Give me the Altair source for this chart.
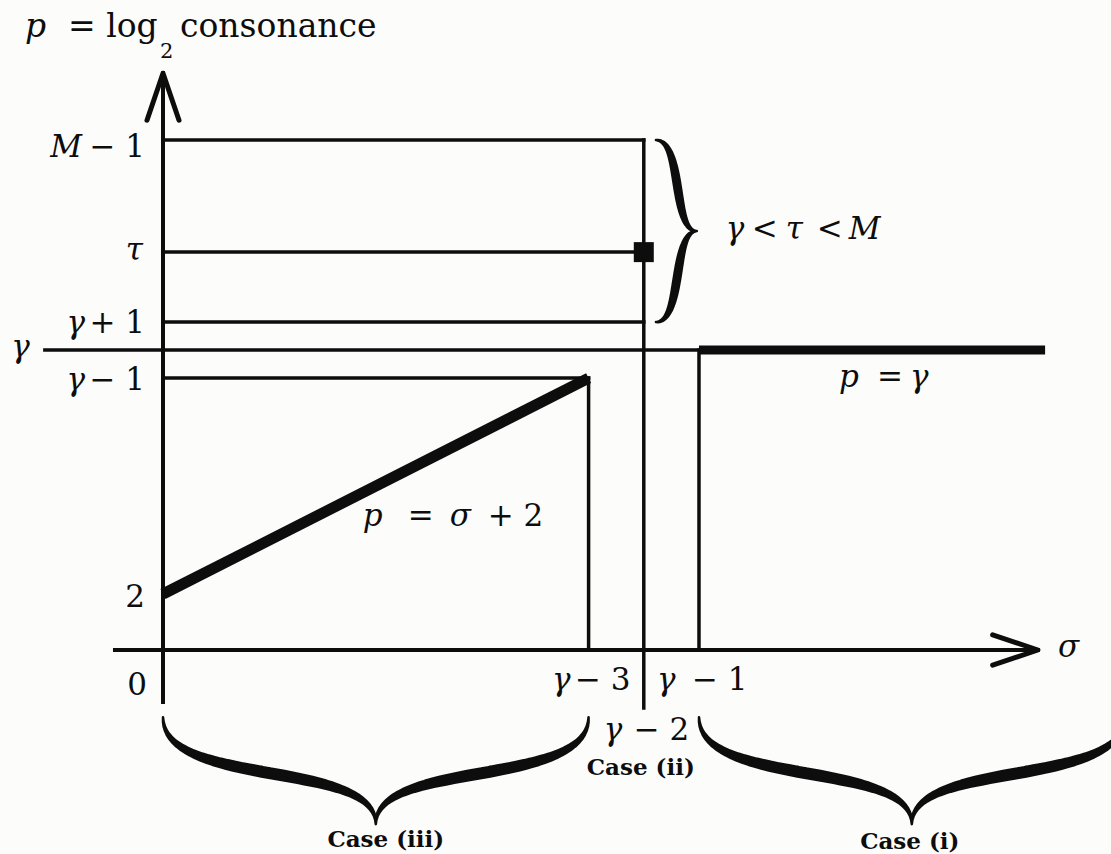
import altair as alt
import numpy as np
import pandas as pd

# ---- schematic values (diagram units: σ across, p = log2 consonance up) ----
GAMMA = 10.71
TAU = 14.21
M = 19.21

SIGMA_AXIS = [-0.87, 15.85]      # extent of the σ axis line
P_AXIS = [-1.86, 20.6]           # extent of the p axis line
GAMMA_LINE = [-2.14, 15.98]      # the p = γ level, left end and right end
RULE_BOTTOM = -2.07              # lower end of the σ = γ − 2 rule
BRACE_P = -2.4                   # top of the two case braces
BRACE_DEPTH = 3.82               # how far the case braces reach down (p units)
SIDE_BRACE_GAP = 0.22            # gap between σ = γ − 2 and the side brace
SIDE_BRACE_DEPTH = 0.74          # width of the side brace (σ units)

# ---- canvas ----
W, H = 1111, 854
UX, UY = 55.2, 28.0              # pixels per σ unit / per p unit
OX, OY = 163, 650                # pixel position of the origin
FONT = "DejaVu Serif"
INK = "#0d0d0d"

xs = alt.Scale(domain=[-OX / UX, (W - OX) / UX], nice=False, zero=False)
ys = alt.Scale(domain=[(OY - H) / UY, OY / UY], nice=False, zero=False)
X = lambda f="x": alt.X(f"{f}:Q", scale=xs, axis=None)
Y = lambda f="y": alt.Y(f"{f}:Q", scale=ys, axis=None)

g = GAMMA

# ---- straight segments: (x, y, x2, y2, width) ----
thin_rules = pd.DataFrame(
    [
        (0, P_AXIS[0], 0, P_AXIS[1], 4.0),                 # p axis
        (SIGMA_AXIS[0], 0, SIGMA_AXIS[1], 0, 4.0),         # σ axis
        (0, M - 1, g - 2, M - 1, 3.5),
        (0, TAU, g - 2, TAU, 3.5),
        (0, g + 1, g - 2, g + 1, 3.5),
        (GAMMA_LINE[0], g, g - 1, g, 3.5),
        (0, g - 1, g - 3, g - 1, 3.5),
        (g - 3, g - 1, g - 3, 0, 3.5),
        (g - 2, M - 1, g - 2, RULE_BOTTOM, 3.5),
        (g - 1, g, g - 1, 0, 3.5),
    ],
    columns=["x", "y", "x2", "y2", "w"],
)
thick_rules = pd.DataFrame(
    [
        (g - 1, g, GAMMA_LINE[1], g, 9.0),      # p = γ
        (0, 2, g - 3, g - 1, 11.0),             # p = σ + 2
    ],
    columns=["x", "y", "x2", "y2", "w"],
)

# ---- arrow heads ----
arrows = pd.DataFrame(
    [
        ("p", 0, -0.29, P_AXIS[1] - 1.68),
        ("p", 1, 0.0, P_AXIS[1]),
        ("p", 2, 0.29, P_AXIS[1] - 1.68),
        ("s", 0, SIGMA_AXIS[1] - 0.82, 0.54),
        ("s", 1, SIGMA_AXIS[1], 0.0),
        ("s", 2, SIGMA_AXIS[1] - 0.82, -0.54),
    ],
    columns=["arrow", "i", "x", "y"],
)

# ---- marked point (σ = γ − 2, p = τ) ----
marker = pd.DataFrame({"x": [g - 2], "y": [TAU]})


# ---- curly braces, drawn as tapered trails ----
def bez(a, b, c, d, t):
    return (1 - t) ** 3 * a + 3 * (1 - t) ** 2 * t * b + 3 * (1 - t) * t ** 2 * c + t ** 3 * d


def brace(name, u0, u1, v0, depth, horizontal, wmax, wend=2.5, n=45):
    tip = (u0 + u1) / 2
    t = np.linspace(0, 1, n)
    va = bez(v0, v0 + 0.67 * depth, v0 + 0.39 * depth, v0 + depth, t)
    ua = bez(u0, u0, tip, tip, t)
    ub = bez(u1, u1, tip, tip, t)[::-1]
    vb = va[::-1]
    w = wend + (wmax - wend) * np.sin(np.pi * t)
    u = np.concatenate([ua, ub[1:]])
    v = np.concatenate([va, vb[1:]])
    ww = np.concatenate([w, w[::-1][1:]])
    x, y = (u, v) if horizontal else (v, u)
    return pd.DataFrame({"brace": name, "i": np.arange(len(u)), "x": x, "y": y, "w": ww})


side_sigma = g - 2 + SIDE_BRACE_GAP
braces = pd.concat(
    [
        brace("iii", 0, g - 3, BRACE_P, -BRACE_DEPTH, True, 12.0),
        brace("i", g - 1, (g - 1) + (g - 3), BRACE_P, -BRACE_DEPTH, True, 12.0),
        brace("tau", M - 1, g + 1, side_sigma, SIDE_BRACE_DEPTH, False, 9.0),
    ],
    ignore_index=True,
)

# ---- text anchors and fragments ----
anchors = {
    "title": (0, P_AXIS[1]),
    "yM": (0, M - 1),
    "yt": (0, TAU),
    "yg+": (0, g + 1),
    "yg-": (0, g - 1),
    "y2": (0, 2),
    "o": (0, 0),
    "yg": (GAMMA_LINE[0], g),
    "x3": (g - 3, 0),
    "x2": (g - 2, 0),
    "x1": (g - 1, 0),
    "xs": (SIGMA_AXIS[1], 0),
    "b3": ((g - 3) / 2, 0),
    "b1": ((g - 1) + (g - 3) / 2, 0),
    "bt": (side_sigma + SIDE_BRACE_DEPTH, (M - 1 + g + 1) / 2),
    "slope": ((g - 3) / 2, (2 + g - 1) / 2),
    "flat": ((g - 1 + GAMMA_LINE[1]) / 2, g),
}

# (text, anchor, dx px, dy px to baseline, style, align, size)
fragments = [
    ("p", "title", -138, -36, "it", "left", 33),
    ("= log", "title", -95, -36, "rm", "left", 33),
    ("2", "title", -3, -15, "rm", "left", 21),
    ("consonance", "title", 17, -36, "rm", "left", 33),
    ("M", "yM", -81, 17, "it", "right", 31),
    ("− 1", "yM", -18, 17, "rm", "right", 31),
    ("τ", "yt", -20, 8, "it", "right", 31),
    ("γ", "yg+", -78, 11, "it", "right", 31),
    ("+ 1", "yg+", -18, 11, "rm", "right", 31),
    ("γ", "yg-", -78, 12, "it", "right", 31),
    ("− 1", "yg-", -18, 12, "rm", "right", 31),
    ("2", "y2", -18, 13, "rm", "right", 31),
    ("0", "o", -16, 45, "rm", "right", 31),
    ("γ", "yg", -15, 7, "it", "right", 31),
    ("γ", "x3", -18, 40, "it", "right", 31),
    ("− 3", "x3", 42, 40, "rm", "right", 31),
    ("γ", "x1", -42, 40, "it", "left", 31),
    ("− 1", "x1", -7, 40, "rm", "left", 31),
    ("γ", "x2", -40, 90, "it", "left", 31),
    ("− 2", "x2", -10, 90, "rm", "left", 31),
    ("σ", "xs", 20, 7, "it", "left", 31),
    ("Case (ii)", "x2", -3, 125, "bd", "center", 23),
    ("Case (iii)", "b3", 10, 197, "bd", "center", 23),
    ("Case (i)", "b1", -2, 199, "bd", "center", 23),
    ("γ", "bt", 29, 8, "it", "left", 31),
    ("<", "bt", 55, 8, "rm", "left", 31),
    ("τ", "bt", 89, 8, "it", "left", 31),
    ("<", "bt", 120, 8, "rm", "left", 31),
    ("M", "bt", 152, 8, "it", "left", 31),
    ("p", "slope", -13, 40, "it", "left", 31),
    ("=", "slope", 32, 40, "rm", "left", 31),
    ("σ", "slope", 74, 40, "it", "left", 31),
    ("+ 2", "slope", 112, 40, "rm", "left", 31),
    ("p", "flat", -33, 37, "it", "left", 31),
    ("=", "flat", 5, 37, "rm", "left", 31),
    ("γ", "flat", 38, 37, "it", "left", 31),
]

labels = pd.DataFrame(
    [
        {
            "text": t,
            "x": anchors[a][0] + dx / UX,
            "y": anchors[a][1] - dy / UY,
            "style": s,
            "align": al,
            "size": sz,
        }
        for t, a, dx, dy, s, al, sz in fragments
    ]
)

# ---- layers ----
layers = [
    alt.Chart(thin_rules)
    .mark_rule(color=INK, strokeCap="square")
    .encode(x=X(), y=Y(), x2="x2:Q", y2="y2:Q", strokeWidth=alt.StrokeWidth("w:Q", scale=None, legend=None)),
    alt.Chart(thick_rules)
    .mark_rule(color=INK, strokeCap="butt")
    .encode(x=X(), y=Y(), x2="x2:Q", y2="y2:Q", strokeWidth=alt.StrokeWidth("w:Q", scale=None, legend=None)),
    alt.Chart(arrows)
    .mark_line(color=INK, strokeWidth=5, strokeJoin="round", strokeCap="round")
    .encode(x=X(), y=Y(), detail="arrow:N", order="i:Q"),
    alt.Chart(marker)
    .mark_square(color=INK, size=400, opacity=1)
    .encode(x=X(), y=Y()),
    alt.Chart(braces)
    .mark_trail(color=INK)
    .encode(
        x=X(), y=Y(), detail="brace:N", order="i:Q",
        size=alt.Size("w:Q", scale=None, legend=None),
    ),
]

for (style, align, size), part in labels.groupby(["style", "align", "size"]):
    kw = dict(font=FONT, fontSize=float(size), align=align, baseline="alphabetic", color=INK)
    if style == "it":
        kw["fontStyle"] = "italic"
    if style == "bd":
        kw["fontWeight"] = "bold"
    layers.append(
        alt.Chart(part.reset_index(drop=True)).mark_text(**kw).encode(x=X(), y=Y(), text="text:N")
    )

chart = (
    alt.layer(*layers)
    .properties(
        width=W,
        height=H,
        padding=0,
        autosize=alt.AutoSizeParams(type="none"),
        background="#fcfcfb",
    )
    .configure_view(stroke=None)
)

chart.save("out.html", embed_options={"renderer": "svg", "actions": False})
